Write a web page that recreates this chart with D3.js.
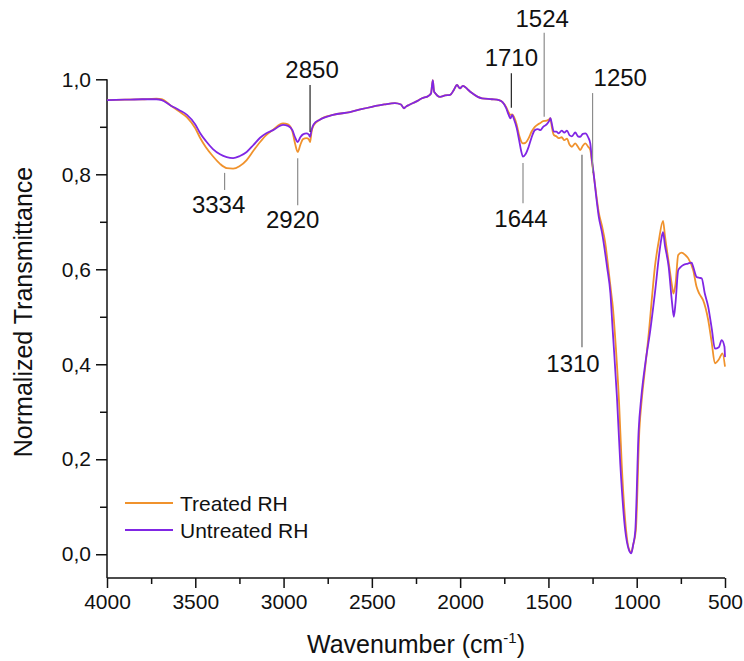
<!DOCTYPE html>
<html>
<head>
<meta charset="utf-8">
<script src="https://cdn.jsdelivr.net/npm/d3@7/dist/d3.min.js"></script>
<style>
  html, body { margin: 0; padding: 0; background: #fff; }
  svg { display: block; font-family: "Liberation Sans", Arial, sans-serif; }
</style>
</head>
<body>
<svg id="chart" width="744" height="661"></svg>
<script>
// FTIR spectra: [wavenumber (cm-1), normalized transmittance]
const treatedRH = [
  [4000,0.956],[3900,0.957],[3800,0.958],[3720,0.959],[3690,0.958],[3640,0.945],[3590,0.932],
  [3547,0.920],[3500,0.897],[3473,0.877],[3440,0.857],[3400,0.838],[3360,0.822],[3322,0.813],
  [3286,0.812],[3250,0.817],[3209,0.830],[3170,0.850],[3133,0.868],[3100,0.882],[3059,0.894],
  [3003,0.907],[2975,0.905],[2950,0.890],[2935,0.865],[2920,0.847],[2905,0.862],[2890,0.874],
  [2870,0.876],[2858,0.874],[2850,0.868],[2842,0.888],[2830,0.903],[2795,0.915],[2720,0.925],
  [2624,0.931],[2560,0.937],[2500,0.942],[2430,0.947],[2369,0.950],[2335,0.947],[2318,0.939],
  [2305,0.943],[2290,0.946],[2250,0.953],[2216,0.960],[2180,0.965],[2165,0.970],[2155,0.998],
  [2148,0.975],[2142,0.971],[2130,0.966],[2114,0.963],[2085,0.966],[2057,0.967],[2035,0.978],
  [2018,0.988],[2001,0.981],[1985,0.986],[1972,0.984],[1955,0.978],[1933,0.971],[1900,0.963],
  [1876,0.960],[1820,0.958],[1780,0.956],[1760,0.952],[1740,0.942],[1725,0.930],[1715,0.925],
  [1705,0.926],[1695,0.921],[1680,0.905],[1666,0.882],[1655,0.870],[1644,0.865],[1630,0.866],
  [1612,0.876],[1595,0.890],[1577,0.900],[1560,0.905],[1545,0.908],[1530,0.912],[1510,0.913],
  [1495,0.916],[1489,0.918],[1480,0.898],[1470,0.883],[1455,0.880],[1442,0.876],[1425,0.878],
  [1410,0.872],[1395,0.875],[1380,0.862],[1367,0.858],[1348,0.865],[1333,0.858],[1320,0.851],
  [1305,0.860],[1291,0.865],[1275,0.858],[1263,0.851],[1255,0.830],[1244,0.800],[1230,0.760],
  [1215,0.720],[1196,0.690],[1178,0.655],[1160,0.600],[1144,0.549],[1135,0.520],[1125,0.472],
  [1100,0.320],[1085,0.190],[1060,0.050],[1045,0.012],[1031,0.004],[1020,0.020],[1005,0.050],
  [985,0.261],[970,0.331],[950,0.400],[930,0.472],[915,0.535],[897,0.605],[875,0.660],
  [851,0.702],[840,0.670],[819,0.615],[800,0.565],[792,0.549],[780,0.570],[765,0.630],
  [746,0.635],[725,0.630],[708,0.623],[680,0.598],[661,0.563],[645,0.548],[624,0.535],
  [595,0.493],[575,0.445],[557,0.402],[535,0.410],[514,0.423],[500,0.395]
];

const untreatedRH = [
  [4000,0.956],[3900,0.957],[3800,0.958],[3720,0.958],[3690,0.956],[3640,0.945],[3590,0.935],
  [3547,0.925],[3500,0.905],[3473,0.887],[3440,0.870],[3400,0.853],[3360,0.842],[3322,0.836],
  [3286,0.834],[3250,0.838],[3209,0.847],[3170,0.862],[3133,0.877],[3100,0.886],[3059,0.893],
  [3003,0.904],[2975,0.902],[2950,0.893],[2935,0.878],[2920,0.868],[2905,0.878],[2890,0.884],
  [2870,0.886],[2858,0.884],[2850,0.879],[2842,0.893],[2830,0.905],[2795,0.915],[2720,0.925],
  [2624,0.931],[2560,0.937],[2500,0.942],[2430,0.947],[2369,0.950],[2335,0.947],[2318,0.939],
  [2305,0.943],[2290,0.946],[2250,0.953],[2216,0.960],[2180,0.965],[2165,0.970],[2155,0.998],
  [2148,0.975],[2142,0.971],[2130,0.966],[2114,0.963],[2085,0.966],[2057,0.967],[2035,0.978],
  [2018,0.988],[2001,0.981],[1985,0.986],[1972,0.984],[1955,0.978],[1933,0.971],[1900,0.963],
  [1876,0.960],[1820,0.958],[1780,0.956],[1760,0.952],[1740,0.940],[1725,0.925],[1715,0.918],
  [1705,0.925],[1695,0.916],[1680,0.898],[1666,0.872],[1655,0.850],[1644,0.837],[1630,0.842],
  [1612,0.858],[1595,0.878],[1577,0.893],[1560,0.895],[1545,0.893],[1530,0.900],[1510,0.905],
  [1495,0.913],[1489,0.918],[1480,0.905],[1470,0.890],[1455,0.890],[1442,0.886],[1425,0.892],
  [1410,0.888],[1395,0.892],[1380,0.882],[1367,0.880],[1348,0.888],[1333,0.880],[1320,0.879],
  [1305,0.885],[1291,0.886],[1275,0.878],[1263,0.865],[1255,0.835],[1244,0.802],[1230,0.755],
  [1215,0.711],[1196,0.676],[1168,0.605],[1149,0.549],[1136,0.472],[1112,0.331],[1093,0.190],
  [1065,0.050],[1045,0.010],[1031,0.002],[1020,0.020],[1008,0.050],[989,0.261],[974,0.331],
  [952,0.400],[923,0.472],[895,0.556],[872,0.634],[860,0.665],[851,0.678],[840,0.650],
  [819,0.605],[800,0.530],[790,0.500],[780,0.530],[765,0.598],[750,0.605],[736,0.609],
  [710,0.612],[689,0.614],[680,0.605],[661,0.584],[645,0.582],[632,0.581],[615,0.550],
  [595,0.521],[575,0.475],[557,0.433],[535,0.436],[519,0.451],[503,0.437],[500,0.415]
];

const seriesNames = ["Treated RH", "Untreated RH"];
const xTickValues = [4000, 3500, 3000, 2500, 2000, 1500, 1000, 500];
const yTickValues = [0.0, 0.2, 0.4, 0.6, 0.8, 1.0];
const peakLabels = [3334, 2920, 2850, 1710, 1524, 1644, 1250, 1310];

const svg = d3.select("#chart");
const colors = { "Treated RH": "#f0922c", "Untreated RH": "#8026e4" };

const x = d3.scaleLinear().domain([4000, 500]).range([107, 725]);
const y = d3.scaleLinear().domain([-0.05, 1.0]).range([578, 79.3]);

const comma = v => d3.format(".1f")(v).replace(".", ",");

// Axes: major ticks with labels, unlabelled minor ticks between them
const xAxis = svg.append("g").attr("transform", `translate(0,${y.range()[0]})`)
  .call(d3.axisBottom(x).tickValues(xTickValues).tickSize(10).tickPadding(6).tickFormat(d3.format("d")));
svg.append("g").attr("transform", `translate(0,${y.range()[0]})`)
  .call(d3.axisBottom(x).tickValues(xTickValues.slice(0, -1).map(v => v - 250)).tickSize(6).tickFormat(""))
  .select(".domain").remove();

const yAxis = svg.append("g").attr("transform", `translate(${x.range()[0]},0)`)
  .call(d3.axisLeft(y).tickValues(yTickValues).tickSize(11).tickPadding(5).tickFormat(comma));
svg.append("g").attr("transform", `translate(${x.range()[0]},0)`)
  .call(d3.axisLeft(y).tickValues(yTickValues.slice(0, -1).map(v => v + 0.1)).tickSize(7).tickFormat(""))
  .select(".domain").remove();

svg.selectAll(".domain").attr("d", function () { return d3.select(this).attr("d"); });
xAxis.select(".domain").attr("d", `M${x.range()[0]},0H${x.range()[1]}`);
yAxis.select(".domain").attr("d", `M0,${y.range()[0]}V${y.range()[1]}`);
svg.selectAll(".domain, .tick line").attr("stroke", "#111").attr("stroke-width", 1.5);
svg.selectAll(".tick text").attr("fill", "#111").style("font-size", "21px")
  .style("font-family", "'Liberation Sans', Arial, sans-serif");

// Spectra
const line = d3.line().x(d => x(d[0])).y(d => y(d[1])).curve(d3.curveMonotoneX);
[["Treated RH", treatedRH], ["Untreated RH", untreatedRH]].forEach(([name, data]) => {
  svg.append("path")
    .datum(data.slice().sort((a, b) => b[0] - a[0]))
    .attr("fill", "none")
    .attr("stroke", colors[name])
    .attr("stroke-width", 1.8)
    .attr("stroke-linejoin", "round")
    .attr("d", line);
});

// Peak annotations: leader line span and label placement in data units
const peakLayout = {
  3334: { from: 0.803, to: 0.767, base: 0.718, dx: -6, anchor: "middle", stroke: "#8c8c8c" },
  2920: { from: 0.834, to: 0.735, base: 0.687, dx: -5, anchor: "middle", stroke: "#8c8c8c" },
  2850: { from: 0.988, to: 0.889, base: 1.003, dx: 2, anchor: "middle", stroke: "#222" },
  1710: { from: 1.013, to: 0.940, base: 1.028, dx: 0, anchor: "middle", stroke: "#222" },
  1524: { from: 1.098, to: 0.921, base: 1.110, dx: -2, anchor: "middle", stroke: "#8c8c8c" },
  1644: { from: 0.824, to: 0.739, base: 0.689, dx: -2, anchor: "middle", stroke: "#8c8c8c" },
  1250: { from: 0.971, to: 0.803, base: 0.986, dx: 1, anchor: "start", stroke: "#8c8c8c" },
  1310: { from: 0.841, to: 0.436, base: 0.383, dx: -9, anchor: "middle", stroke: "#666" }
};
const ann = svg.append("g");
peakLabels.forEach(wn => {
  const p = peakLayout[wn];
  ann.append("line")
    .attr("x1", x(wn)).attr("x2", x(wn))
    .attr("y1", y(p.from)).attr("y2", y(p.to))
    .attr("stroke", p.stroke).attr("stroke-width", 1.2);
  ann.append("text")
    .attr("x", x(wn) + p.dx).attr("y", y(p.base))
    .attr("text-anchor", p.anchor)
    .attr("fill", "#111")
    .style("font-size", "24px")
    .text(wn);
});

// Legend
const legend = svg.append("g");
seriesNames.forEach((name, i) => {
  const ly = 503 + i * 27;
  legend.append("line").attr("x1", 125).attr("x2", 173).attr("y1", ly).attr("y2", ly)
    .attr("stroke", colors[name]).attr("stroke-width", 1.8);
  legend.append("text").attr("x", 180).attr("y", ly + 8)
    .attr("fill", "#111").style("font-size", "21px").text(name);
});

// Axis titles
const xt = svg.append("text").attr("x", (x.range()[0] + x.range()[1]) / 2).attr("y", 653)
  .attr("text-anchor", "middle").attr("fill", "#111").style("font-size", "25px");
xt.append("tspan").text("Wavenumber (cm");
xt.append("tspan").attr("dy", -10).style("font-size", "15px").text("-1");
xt.append("tspan").attr("dy", 10).text(")");

svg.append("text")
  .attr("transform", "translate(32,312) rotate(-90)")
  .attr("text-anchor", "middle").attr("fill", "#111").style("font-size", "25px")
  .text("Normalized Transmittance");
</script>
</body>
</html>
